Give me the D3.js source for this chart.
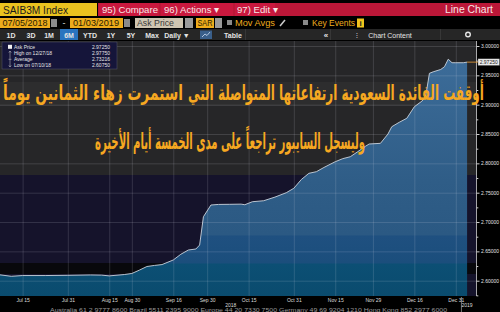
<!DOCTYPE html>
<html>
<head>
<meta charset="utf-8">
<script src="https://cdn.jsdelivr.net/npm/d3@7"></script>
<style>
  body { margin: 0; background: #000; }
  svg { display: block; font-family: "Liberation Sans", Arial, sans-serif; }
</style>
</head>
<body>
<svg id="chart" width="500" height="312"></svg>
<script>
// Chart values
const START_DATE = "2018-07-05";
const END_DATE = "2019-01-03";
// Saudi trading week is Sun-Thu, these days had no fixing
const HOLIDAYS = ["2018-08-19", "2018-08-20", "2018-08-21", "2018-08-22", "2018-08-23", "2018-09-23"];

const priceDates = [
  "2018-07-05", "2018-07-10", "2018-07-15", "2018-07-23", "2018-07-31", "2018-08-08",
  "2018-08-13", "2018-08-15", "2018-08-28", "2018-08-30", "2018-09-03", "2018-09-05",
  "2018-09-09", "2018-09-11", "2018-09-16", "2018-09-18", "2018-09-20", "2018-09-25",
  "2018-09-26", "2018-09-27", "2018-10-01", "2018-10-03", "2018-10-08", "2018-10-11",
  "2018-10-14", "2018-10-16", "2018-10-21", "2018-10-24", "2018-10-29", "2018-10-31",
  "2018-11-04", "2018-11-06", "2018-11-08", "2018-11-12", "2018-11-15", "2018-11-19",
  "2018-11-21", "2018-11-25", "2018-11-27", "2018-11-28", "2018-12-03", "2018-12-05",
  "2018-12-06", "2018-12-10", "2018-12-12", "2018-12-16", "2018-12-18", "2018-12-19",
  "2018-12-20", "2018-12-23", "2018-12-25", "2018-12-26", "2018-12-27", "2018-12-30",
  "2018-12-31", "2019-01-02", "2019-01-03"
];
const askPrice = [
  2.6100, 2.6075, 2.6088, 2.6088, 2.6092, 2.6098,
  2.6095, 2.6082, 2.6105, 2.6123, 2.6180, 2.6242,
  2.6260, 2.6275, 2.6353, 2.6450, 2.6523, 2.6540,
  2.6608, 2.7090, 2.7290, 2.7300, 2.7302, 2.7305,
  2.7295, 2.7346, 2.7363, 2.7425, 2.7500, 2.7575,
  2.7725, 2.7830, 2.7858, 2.7930, 2.8028, 2.8080,
  2.8113, 2.8200, 2.8290, 2.8330, 2.8341, 2.8500,
  2.8624, 2.8700, 2.8768, 2.8965, 2.9060, 2.9136,
  2.9534, 2.9560, 2.9600, 2.9647, 2.9775, 2.9715,
  2.9715, 2.9715, 2.9725
];

const yTicks = [2.60, 2.65, 2.70, 2.75, 2.80, 2.85, 2.90, 2.95, 3.00];
const yMinorTicks = [2.575, 2.625, 2.675, 2.725, 2.775, 2.825, 2.875, 2.925, 2.975];
const xTickDates = ["2018-07-15", "2018-07-31", "2018-08-15", "2018-08-30", "2018-09-16", "2018-09-30",
  "2018-10-15", "2018-10-31", "2018-11-15", "2018-11-29", "2018-12-16", "2018-12-31"];
const xTickLabels = ["Jul 15", "Jul 31", "Aug 15", "Aug 30", "Sep 16", "Sep 30",
  "Oct 15", "Oct 31", "Nov 15", "Nov 29", "Dec 16", "Dec 31"];
const yearLabels = ["2018", "2019"];

const legendLabels = ["Ask Price", "High on 12/27/18", "Average", "Low on 07/10/18"];
const legendValues = ["2.97250", "2.97750", "2.73216", "2.60750"];
const LAST_PRICE = 2.9725;

const headlineParts = [
  "أوقفت الفائدة السعودية ارتفاعاتها المتواصلة التي",
  "استمرت زهاء الثمانين يوماً",
  "وليسجل السايبور تراجعاً على مدى الخمسة أيام الأخيرة"
];
const FOOTER = "Australia 61 2 9777 8600 Brazil 5511 2395 9000 Europe 44 20 7330 7500 Germany 49 69 9204 1210 Hong Kong 852 2977 6000";

// Layout
const PLOT = { left: 0, top: 41, right: 476.5, bottom: 296 };
const AMBER = "#eeac1c";
const RED = "#bb1738";

const svg = d3.select("#chart");
const fmt = d3.timeFormat("%Y-%m-%d");
const parse = d3.timeParse("%Y-%m-%d");

// Build the trading calendar the x axis runs on
const tradingDays = d3.timeDay
  .range(parse(START_DATE), d3.timeDay.offset(parse(END_DATE), 1))
  .filter((d) => d.getDay() <= 4 && !HOLIDAYS.includes(fmt(d)));
const dayIndex = new Map(tradingDays.map((d, i) => [fmt(d), i]));

const points = priceDates
  .map((d, i) => ({ i: dayIndex.get(d), v: askPrice[i] }))
  .filter((p) => p.i !== undefined);

const x = d3.scaleLinear().domain([0, tradingDays.length + 1.5]).range([PLOT.left, PLOT.right]);
const y = d3.scaleLinear().domain([2.60, 3.00]).range([280.7, 46]);

function rect(px, py, w, h, fill) {
  return svg.append("rect").attr("x", px).attr("y", py).attr("width", w).attr("height", h).attr("fill", fill);
}
function text(px, py, s, size, fill, anchor, weight) {
  return svg.append("text").attr("x", px).attr("y", py).text(s)
    .attr("font-size", size).attr("fill", fill)
    .attr("text-anchor", anchor || "start")
    .attr("font-weight", weight || "normal");
}
// text squeezed to a known width
function fitText(px, py, s, size, fill, width) {
  return text(px, py, s, size, fill).attr("textLength", width).attr("lengthAdjust", "spacingAndGlyphs");
}

// ---- Header rows ----
rect(0, 3, 97, 13, "#eac21f");
fitText(3, 13.5, "SAIB3M Index", 10.5, "#1b1b1b", 65);
rect(98, 3, 402, 13, RED);
rect(99, 3, 60, 13, "#c9183e");
rect(161, 3, 72, 13, "#c9183e");
rect(235, 3, 40, 13, "#c9183e");
text(102, 13.3, "95) Compare", 9.6, "#f7e6e6");
text(164, 13.3, "96) Actions ▾", 9.6, "#f7e6e6");
text(237, 13.3, "97) Edit ▾", 9.6, "#f7e6e6");
fitText(445, 13.3, "Line Chart", 10, "#f7e6e6", 48);

// second row: dates and options
rect(0, 18, 50, 10, AMBER);
fitText(2.5, 26.3, "07/05/2018", 8.8, "#2a1d00", 45);
rect(51, 19, 6, 8, "#8a8a8a");
text(64, 26, "-", 9, "#ddd", "middle");
rect(70, 18, 53, 10, AMBER);
fitText(73, 26.3, "01/03/2019", 8.8, "#2a1d00", 46);
rect(124, 19, 6, 8, "#8a8a8a");
rect(135, 18, 48, 10, "#cfc5b1");
fitText(137, 26.3, "Ask Price", 8.8, "#3a3a3a", 37);
rect(185, 18, 8, 10, "#9a9a9a");
rect(196, 18, 18, 10, AMBER);
fitText(197.5, 26.3, "SAR", 8.8, "#2a1d00", 15);
rect(215, 18, 7, 10, "#9a9a9a");
rect(227, 20, 5, 5, "#8a8a8a");
fitText(235, 26.3, "Mov Avgs", 8.8, AMBER, 40);
svg.append("line").attr("x1", 280).attr("y1", 26).attr("x2", 285).attr("y2", 20)
  .attr("stroke", "#ccc").attr("stroke-width", 1.5);
rect(303, 20, 5, 5, "#8a8a8a");
fitText(312, 26.3, "Key Events", 8.8, AMBER, 43);
rect(357, 18.5, 7, 9, "#f2c41e");
text(360.5, 26, "i", 8, "#222", "middle", "bold");

// third row: range toolbar
rect(0, 29, 500, 11, "#262626");
rect(60, 29, 18, 11, "#2a74bf");
const rangeButtons = ["1D", "3D", "1M", "6M", "YTD", "1Y", "5Y", "Max", "Daily ▼"];
const rangeX = [11, 31, 49, 69, 90, 111, 131, 152, 177];
rangeButtons.forEach((b, i) => text(rangeX[i], 37.5, b, 7, "#e4e4e4", "middle", "bold"));
rect(200, 30.5, 12, 8.5, "#3a5f8a");
svg.append("path").attr("d", "M202,37 L205,34 L207,35.5 L210,32")
  .attr("fill", "none").attr("stroke", "#cfe0f5").attr("stroke-width", 0.8);
text(233, 37.5, "Table", 7, "#e4e4e4", "middle", "bold");
[245, 330, 440].forEach((sx) => rect(sx, 29, 0.8, 11, "#3c3c3c"));
text(326, 37.5, "«", 8, "#e4e4e4", "middle", "bold");
text(390, 37.5, "Chart Content", 7, "#e4e4e4", "middle");
text(357, 37.5, "⁝", 7, "#e4e4e4", "middle");
svg.append("circle").attr("cx", 468).attr("cy", 34.5).attr("r", 2.3)
  .attr("fill", "none").attr("stroke", "#e4e4e4").attr("stroke-width", 1.4);

// ---- Plot background bands ----
rect(PLOT.left, PLOT.top, PLOT.right, PLOT.bottom - PLOT.top, "#15132b");
rect(PLOT.left, PLOT.top, PLOT.right, 175 - PLOT.top, "#262628");
rect(PLOT.left, 82, PLOT.right, 24, "#2d2d2e");
rect(PLOT.left, 263, PLOT.right, 11, "#08080c");

// ---- Area fill ----
const defs = svg.append("defs");
const grad = defs.append("linearGradient").attr("id", "fillGrad")
  .attr("gradientUnits", "userSpaceOnUse")
  .attr("x1", 0).attr("x2", 0).attr("y1", PLOT.top).attr("y2", PLOT.bottom);
[[0, "#3e6e9b"], [0.55, "#2f5d87"], [0.76, "#2b5983"], [0.765, "#1f5080"],
 [0.87, "#1b4e7c"], [0.875, "#0c4f74"], [1, "#0a4b6e"]]
  .forEach(([o, c]) => grad.append("stop").attr("offset", o).attr("stop-color", c));

const area = d3.area()
  .x((d) => x(d.i))
  .y0(PLOT.bottom)
  .y1((d) => y(d.v));
svg.append("path").datum(points).attr("d", area).attr("fill", "url(#fillGrad)");

// ---- Grid lines ----
const tickIdx = xTickDates.map((d) => dayIndex.get(d));
const gridX = svg.append("g")
  .attr("transform", `translate(0,${PLOT.bottom})`)
  .call(d3.axisBottom(x).tickValues(tickIdx).tickSize(-(PLOT.bottom - PLOT.top)).tickFormat(""));
gridX.select(".domain").remove();
gridX.selectAll("line").attr("stroke", "rgba(220,225,235,0.22)").attr("stroke-width", 0.7);

const gridY = svg.append("g")
  .attr("transform", `translate(${PLOT.right},0)`)
  .call(d3.axisRight(y).tickValues(yTicks).tickSize(-PLOT.right).tickFormat(""));
gridY.select(".domain").remove();
gridY.selectAll("line").attr("stroke", "rgba(220,225,235,0.22)").attr("stroke-width", 0.7);

// ---- Price line ----
const line = d3.line().x((d) => x(d.i)).y((d) => y(d.v));
svg.append("path").datum(points).attr("d", line)
  .attr("fill", "none").attr("stroke", "#c9d2dc").attr("stroke-width", 0.9);

// ---- Axes ----
const yAxis = svg.append("g")
  .attr("transform", `translate(${PLOT.right},0)`)
  .call(d3.axisRight(y).tickValues(yTicks).tickSize(3).tickPadding(1.5).tickFormat(d3.format(".5f")));
yAxis.select(".domain").attr("d", `M0,${PLOT.top}V${PLOT.bottom}`).attr("stroke", "#cfcfcf").attr("stroke-width", 0.8);
yAxis.selectAll("line").attr("stroke", "#cfcfcf");
yAxis.selectAll("text").attr("fill", "#e2e2e2").attr("font-size", 5)
  .attr("font-family", "Liberation Sans, Arial, sans-serif");

const yMinor = svg.append("g")
  .attr("transform", `translate(${PLOT.right},0)`)
  .call(d3.axisRight(y).tickValues(yMinorTicks).tickSize(1.8).tickFormat(""));
yMinor.select(".domain").remove();
yMinor.selectAll("line").attr("stroke", "#cfcfcf");

const xAxis = svg.append("g")
  .attr("transform", `translate(0,${PLOT.bottom})`)
  .call(d3.axisBottom(x).tickValues(tickIdx).tickSize(0).tickPadding(2.2)
    .tickFormat((d, i) => xTickLabels[i]));
xAxis.select(".domain").remove();
xAxis.selectAll("text").attr("fill", "#dcdcdc").attr("font-size", 5)
  .attr("font-family", "Liberation Sans, Arial, sans-serif");

// year labels under the dates
const yearBreak = x(dayIndex.get("2019-01-02") - 0.5);
text((PLOT.left + yearBreak) / 2, 306.5, yearLabels[0], 5, "#dcdcdc", "middle");
text((yearBreak + PLOT.right) / 2 - 2, 306.8, yearLabels[1], 5, "#dcdcdc", "middle");
svg.append("line").attr("x1", yearBreak).attr("x2", yearBreak).attr("y1", PLOT.bottom + 1).attr("y2", 312)
  .attr("stroke", "#bdbdbd").attr("stroke-width", 0.6);

// last price marker
const last = points[points.length - 1];
svg.append("line").attr("x1", x(last.i)).attr("x2", PLOT.right + 2)
  .attr("y1", y(LAST_PRICE)).attr("y2", y(LAST_PRICE))
  .attr("stroke", "#f0a23a").attr("stroke-width", 0.8);
rect(PLOT.right + 1.5, y(LAST_PRICE) - 3.3, 21.5, 6.6, "#e9e9e9").attr("stroke", "#555").attr("stroke-width", 0.4);
text(PLOT.right + 12.2, y(LAST_PRICE) + 1.8, d3.format(".5f")(LAST_PRICE), 5, "#1e1e1e", "middle");

// ---- Legend box ----
rect(2, 42, 115, 27, "#15153a").attr("stroke", "#5a5a6a").attr("stroke-width", 0.5);
rect(8, 44.8, 4, 4, "#f2f2f2");
svg.append("path").attr("d", "M10,51 V67 M10,51 l-1.2,1.6 M10,51 l1.2,1.6 M10,67 l-1.2,-1.6 M10,67 l1.2,-1.6 M8.5,59.3 H11.5")
  .attr("fill", "none").attr("stroke", "#cfcfcf").attr("stroke-width", 0.5);
legendLabels.forEach((l, i) => {
  text(14, 48.8 + i * 6, l, 5, "#e6e6e6");
  text(110, 48.8 + i * 6, legendValues[i], 5, "#e6e6e6", "end");
});

// ---- Footer ----
fitText(50, 311.5, FOOTER, 4.6, "#9a9a9a", 397);

// ---- Arabic headline overlay ----
const headBoxes = [
  { cx: 336, base: 100, w: 296, size: 21 },
  { cx: 93, base: 100, w: 180, size: 21 },
  { cx: 230, base: 149, w: 270, size: 22 }
];
headlineParts.forEach((s, i) => {
  const b = headBoxes[i];
  const t = svg.append("text")
    .attr("direction", "rtl")
    .attr("text-anchor", "middle")
    .attr("font-family", "DejaVu Sans, sans-serif")
    .attr("font-weight", "bold")
    .attr("font-size", b.size)
    .attr("fill", "#f6a821")
    .text(s);
  const w = t.node().getComputedTextLength() || b.w;
  t.attr("transform", `translate(${b.cx},${b.base}) scale(${b.w / w},1)`);
});
</script>
</body>
</html>
